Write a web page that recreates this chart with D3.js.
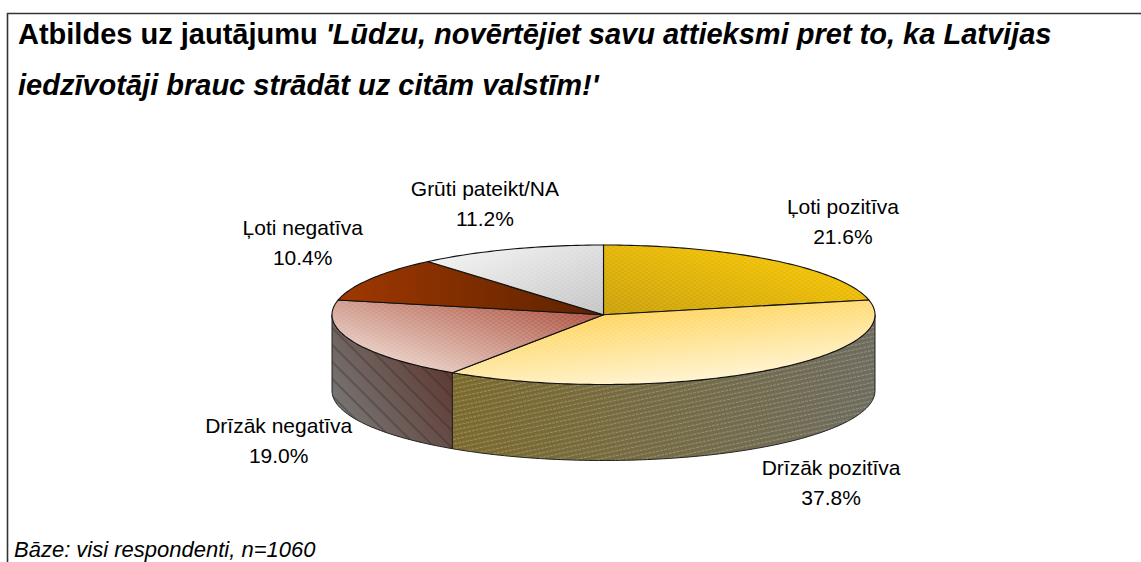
<!DOCTYPE html>
<html lang="lv"><head><meta charset="utf-8">
<script src="https://cdn.jsdelivr.net/npm/d3@7"></script>
<style>html,body{margin:0;padding:0;background:#fff}svg{display:block}text{font-family:"Liberation Sans",Arial,sans-serif;fill:#000}</style>
</head><body><svg id="c" width="1141" height="562"></svg>
<script>
const categories = ["Ļoti pozitīva","Drīzāk pozitīva","Drīzāk negatīva","Ļoti negatīva","Grūti pateikt/NA"];
const values = [21.6,37.8,19.0,10.4,11.2];
const valueLabels = ["21.6%","37.8%","19.0%","10.4%","11.2%"];
const titleLine1Bold = "Atbildes uz jautājumu ";
const titleLine1Italic = "'Lūdzu, novērtējiet savu attieksmi pret to, ka Latvijas";
const titleLine2 = "iedzīvotāji brauc strādāt uz citām valstīm!'";
const footnote = "Bāze: visi respondenti, n=1060";

// layout & style (kept apart from the data)
const W=1141,H=562,cx=603.5,cy=314.75,rx=271.5,ry=69.75,depth=76;
const topGrad=[["#c99f08","#ffcc00",[0,1,1,0]],["#ffcb3a","#fff6d8",[.1,0,.6,1]],["#a84a38","#f0dcd2",[1,.1,.1,.9]],["#5c2200","#a03800",[1,.5,0,.5]],["#c4c4c4","#f8f8f8",[1,1,0,0]]];
const wallGrad={1:["#7c6a2c","#6e6c60"],2:["#5a2c24","#767472"]};
const labelOffset=[[69,-46],[75,103],[-73,92],[-68,-44],[-25,-53]];
const lineGap=30;

const svg=d3.select("#c"),defs=svg.append("defs");
const pie=d3.pie().sort(null).value(d=>d);
const arcs=pie(values);
const px=d3.scaleLinear().domain([-1,1]).range([cx-rx,cx+rx]);
const py=d3.scaleLinear().domain([-1,1]).range([cy-ry,cy+ry]);
const ptX=a=>px(Math.sin(a)), ptY=a=>py(-Math.cos(a));
const samples=(a0,a1)=>{const n=Math.max(2,Math.ceil((a1-a0)/0.02));return d3.range(n+1).map(i=>a0+(a1-a0)*i/n);};

// gradients
const grad=(id,c0,c1,v)=>{const g=defs.append("linearGradient").attr("id",id).attr("x1",v[0]).attr("y1",v[1]).attr("x2",v[2]).attr("y2",v[3]);
 g.append("stop").attr("offset",0).attr("stop-color",c0);g.append("stop").attr("offset",1).attr("stop-color",c1);};
topGrad.forEach((g,i)=>grad("t"+i,g[0],g[1],g[2]));
Object.entries(wallGrad).forEach(([k,g])=>grad("w"+k,g[0],g[1],k==1?[0,0,1,0]:[1,0,0,0.6]));

// texture patterns
const dots=defs.append("pattern").attr("id","dither").attr("patternUnits","userSpaceOnUse").attr("width",6).attr("height",4);
dots.append("path").attr("d","M0 1H3M3 3H6").attr("stroke","#fff").attr("stroke-opacity",.16).attr("stroke-width",1);
const h2=defs.append("pattern").attr("id","hatch2").attr("patternUnits","userSpaceOnUse").attr("width",40).attr("height",4.5).attr("patternTransform","rotate(-12)");
h2.append("path").attr("d","M0 2.2H40").attr("stroke","#c9c4a8").attr("stroke-opacity",.4).attr("stroke-width",1.1).attr("stroke-dasharray","3 1");
const h3=defs.append("pattern").attr("id","hatch3").attr("patternUnits","userSpaceOnUse").attr("width",12).attr("height",40).attr("patternTransform","rotate(-45)");
h3.append("path").attr("d","M3 0V40").attr("stroke","#2c2220").attr("stroke-opacity",.4).attr("stroke-width",1.6);

// frame
svg.append("path").attr("d",`M${W} 13.5H7.5V${H}`).attr("fill","none").attr("stroke","#333").attr("stroke-width",1.6);

// walls of the front-facing slices
const visible=[Math.PI/2,3*Math.PI/2];
arcs.forEach((d,i)=>{
 const a0=Math.max(d.startAngle,visible[0]),a1=Math.min(d.endAngle,visible[1]);
 if(a1<=a0) return;
 const s=samples(a0,a1);
 const path=d3.path();
 s.forEach((a,k)=>k?path.lineTo(ptX(a),ptY(a)):path.moveTo(ptX(a),ptY(a)));
 s.slice().reverse().forEach(a=>path.lineTo(ptX(a),ptY(a)+depth));
 path.closePath();
 svg.append("path").attr("d",path.toString()).attr("fill",`url(#w${i})`);
 svg.append("path").attr("d",path.toString()).attr("fill",i==1?"url(#hatch2)":"url(#hatch3)").attr("stroke","#222").attr("stroke-width",1);
});

// top faces
arcs.forEach((d,i)=>{
 const s=samples(d.startAngle,d.endAngle);
 const path=d3.path();
 path.moveTo(cx,cy);
 s.forEach(a=>path.lineTo(ptX(a),ptY(a)));
 path.closePath();
 svg.append("path").attr("d",path.toString()).attr("fill",`url(#t${i})`);
 svg.append("path").attr("d",path.toString()).attr("fill",i==3?"none":"url(#dither)").attr("stroke","#111").attr("stroke-width",1.1);
});

// labels
arcs.forEach((d,i)=>{
 const m=(d.startAngle+d.endAngle)/2,x=ptX(m)+labelOffset[i][0],y=ptY(m)+labelOffset[i][1];
 const t=svg.append("text").attr("text-anchor","middle").attr("font-size",21);
 t.append("tspan").attr("x",x).attr("y",y).text(categories[i]);
 t.append("tspan").attr("x",x).attr("y",y+lineGap).text(valueLabels[i]);
});

// title & footnote
const t1=svg.append("text").attr("x",18).attr("y",44).attr("font-size",29).attr("font-weight","bold");
t1.append("tspan").text(titleLine1Bold);
t1.append("tspan").attr("font-style","italic").text(titleLine1Italic);
svg.append("text").attr("x",18).attr("y",95).attr("font-size",29).attr("font-weight","bold").attr("font-style","italic").text(titleLine2);
svg.append("text").attr("x",14).attr("y",557).attr("font-size",22).attr("font-style","italic").text(footnote);
</script></body></html>
